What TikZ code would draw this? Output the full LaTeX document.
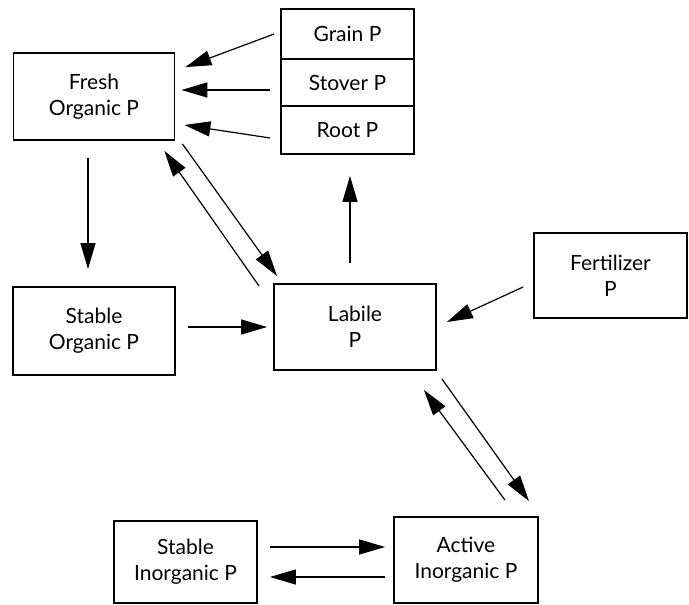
\documentclass[tikz,border=0pt]{standalone}
\usepackage{fontspec}
\setmainfont{Lato}
\usetikzlibrary{arrows.meta,calc}
\begin{document}
\begin{tikzpicture}[x=1pt,y=-1pt,
  box/.style={draw,line width=1.8pt,inner sep=0pt,align=center,font=\fontsize{21}{26}\selectfont},
  arr/.style={line width=1.2pt,-{Triangle[length=26pt,width=15pt]}}]
\useasboundingbox (0,0) rectangle (689,605);
\node[box,minimum width=161pt,minimum height=87pt] (fresh) at (94,96.5) {Fresh\\Organic P};
\node[box,minimum width=133pt,minimum height=50pt] (grain) at (347.5,34) {Grain P};
\node[box,minimum width=133pt,minimum height=47pt] (stover) at (347.5,82.5) {Stover P};
\node[box,minimum width=133pt,minimum height=48pt] (root) at (347.5,130) {Root P};
\node[box,minimum width=162pt,minimum height=88pt] (stableorg) at (94,331) {Stable\\Organic P};
\node[box,minimum width=162pt,minimum height=86pt] (labile) at (355,327) {Labile\\P};
\node[box,minimum width=153pt,minimum height=85pt] (fert) at (610.5,275.5) {Fertilizer\\P};
\node[box,minimum width=143pt,minimum height=82pt] (stableinorg) at (185.5,562) {Stable\\Inorganic P};
\node[box,minimum width=144pt,minimum height=86pt] (active) at (466,560) {Active\\Inorganic P};
% plant parts -> fresh
\draw[arr] ($(grain.west)+(-6,0)$) -- ($(fresh.north east)+(10,15)$);
\draw[arr] ($(stover.west)+(-10,7.5)$) -- ($(fresh.east)+(6,-6.5)$);
\draw[arr] ($(root.west)+(-10,8)$) -- ($(fresh.east)+(9,28.5)$);
% fresh -> stable organic
\draw[arr] ($(fresh.south)+(-6,17)$) -- ($(stableorg.north)+(-6,-17)$);
% fresh <-> labile
\draw[arr] ($(labile.north west)+(-14,3)$) -- ($(fresh.south east)+(-11,10)$);
\draw[arr] ($(fresh.south east)+(7,3)$) -- ($(labile.north west)+(4,-7)$);
% labile -> plant
\draw[arr] ($(labile.north)+(-5,-20)$) -- ($(root.south)+(2.5,21)$);
% stable organic -> labile
\draw[arr] ($(stableorg.east)+(12,-4)$) -- ($(labile.west)+(-6,0)$);
% fertilizer -> labile
\draw[arr] ($(fert.west)+(-10,11.5)$) -- ($(labile.east)+(10,-5)$);
% labile <-> active
\draw[arr] ($(active.north)+(39,-16)$) -- ($(labile.south east)+(-13,19)$);
\draw[arr] ($(labile.south east)+(5,8)$) -- ($(active.north)+(63,-15)$);
% stable inorganic <-> active
\draw[arr] ($(stableinorg.east)+(12,-15)$) -- ($(active.west)+(-8,-13)$);
\draw[arr] ($(active.west)+(-8,17)$) -- ($(stableinorg.east)+(12,15)$);
\end{tikzpicture}
\end{document}
